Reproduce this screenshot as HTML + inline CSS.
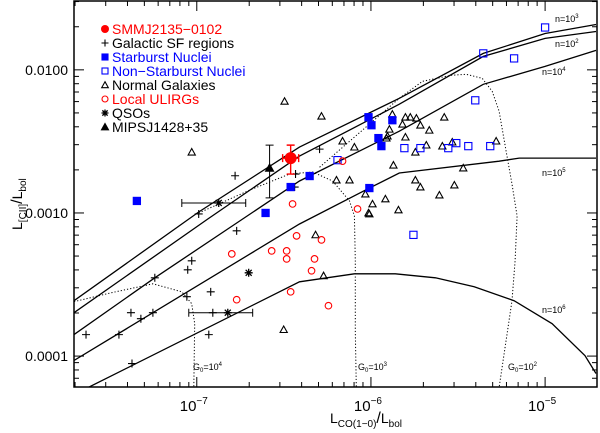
<!DOCTYPE html>
<html><head><meta charset="utf-8"><style>
body{margin:0;background:#fff}
svg{display:block;font-family:"Liberation Sans",sans-serif}
</style></head><body>
<svg id="c" width="600" height="433" viewBox="0 0 600 433"></svg>
<script>
// axes: log10 values
const xLogMin=-7.705, xLogMax=-4.702, yLogMin=-4.216, yLogMax=-1.519;
const xTickExp=[-7,-6,-5];
const yTickLabels=["0.0001","0.0010","0.0100"];
const yTickExp=[-4,-3,-2];
// data (log10 LCO/Lbol, log10 LCII/Lbol)
const sfX=[-7.636,-7.447,-7.378,-7.321,-7.252,-7.241,-7.057,-7.052,-7.029,-6.920,-6.931,-6.771,-6.908,-7.372,-6.989,-6.433,-6.438,-6.295,-6.780];
const sfY=[-3.850,-3.850,-3.697,-3.739,-3.697,-3.453,-3.585,-3.397,-3.334,-3.551,-3.850,-3.125,-3.697,-4.052,-3.007,-2.728,-2.819,-2.554,-2.740];
const sbX=[-7.344,-6.605,-6.461,-6.352,-6.014,-5.997,-5.957,-5.940,-5.877,-6.009];
const sbY=[-2.916,-3.000,-2.819,-2.742,-2.331,-2.387,-2.477,-2.533,-2.352,-2.826];
const nsbX=[-5.000,-5.355,-5.178,-5.401,-5.808,-5.716,-5.556,-5.510,-5.441,-5.315,-6.192,-5.756];
const nsbY=[-1.704,-1.885,-1.920,-2.213,-2.547,-2.547,-2.547,-2.512,-2.533,-2.533,-2.631,-3.153];
const ngX=[-7.029,-6.496,-6.284,-6.163,-6.095,-5.877,-5.802,-5.774,-5.739,-5.716,-5.665,-5.579,-5.894,-5.905,-5.911,-5.802,-5.819,-5.745,-5.682,-5.590,-5.533,-5.281,-5.871,-5.470,-6.198,-6.123,-5.745,-5.716,-5.521,-5.607,-6.032,-5.991,-5.917,-6.014,-5.842,-6.318,-6.272,-6.009,-6.501];
const ngY=[-2.575,-2.220,-2.324,-2.498,-2.540,-2.310,-2.331,-2.331,-2.338,-2.387,-2.422,-2.331,-2.415,-2.463,-2.477,-2.470,-2.380,-2.575,-2.526,-2.533,-2.505,-2.498,-2.666,-2.686,-2.770,-2.770,-2.770,-2.819,-2.805,-2.875,-2.868,-2.937,-2.902,-3.000,-2.979,-3.153,-3.439,-3.007,-3.815];
const ulX=[-6.450,-6.163,-6.077,-6.799,-6.771,-6.570,-6.484,-6.484,-6.427,-6.461,-6.284,-6.324,-6.341,-6.244];
const ulY=[-2.937,-2.638,-2.972,-3.286,-3.606,-3.265,-3.265,-3.321,-3.160,-3.551,-3.188,-3.321,-3.404,-3.648];
const qsoX=[-6.874,-6.702,-6.822];
const qsoY=[-2.930,-3.418,-3.697];
const qsoErrLo=[-7.086,null,-7.046];
const qsoErrHi=[-6.719,null,-6.679];
const mipsX=[-6.582], mipsY=[-2.686], mipsErrLo=[-2.895], mipsErrHi=[-2.526];
const smmX=[-6.461], smmY=[-2.617], smmErrYLo=[-2.728], smmErrYHi=[-2.526], smmErrXLo=[-6.507], smmErrXHi=[-6.415];
// model curves
const curveN3X=[-7.705,-6.989,-6.410,-5.837,-5.355,-5.000,-4.708];
const curveN3Y=[-3.613,-2.993,-2.540,-2.199,-1.885,-1.746,-1.683];
const curveN2X=[-7.705,-6.937,-6.410,-5.837,-5.355,-5.000,-4.708];
const curveN2Y=[-3.697,-3.042,-2.603,-2.240,-1.906,-1.780,-1.732];
const curveN4X=[-7.705,-7.241,-6.771,-6.410,-5.837,-5.355,-5.000,-4.708];
const curveN4Y=[-3.850,-3.453,-3.070,-2.777,-2.429,-2.101,-1.976,-1.864];
const curveN5X=[-7.705,-6.410,-6.009,-5.837,-5.264,-5.149,-4.708];
const curveN5Y=[-4.031,-3.077,-2.826,-2.721,-2.638,-2.617,-2.617];
const curveN6X=[-7.625,-6.410,-6.095,-5.860,-5.630,-5.407,-5.178,-4.960,-4.771,-4.708];
const curveN6Y=[-4.220,-3.481,-3.425,-3.425,-3.453,-3.516,-3.613,-3.774,-3.997,-4.122];
const g4X=[-7.705,-7.500,-7.252,-7.086,-7.029,-7.012,-7.017];
const g4Y=[-3.620,-3.560,-3.495,-3.551,-3.634,-3.774,-4.220];
const g3X=[-6.989,-6.696,-6.467,-6.335,-6.220,-6.123,-6.095,-6.090,-6.090,-6.084];
const g3Y=[-3.000,-2.840,-2.728,-2.714,-2.777,-2.916,-3.021,-3.334,-3.822,-4.220];
const g2X=[-6.295,-5.837,-5.704,-5.539,-5.453,-5.361,-5.304,-5.264,-5.224,-5.190,-5.161,-5.172,-5.190,-5.264];
const g2Y=[-2.680,-2.199,-2.080,-2.038,-2.031,-2.059,-2.150,-2.289,-2.568,-2.798,-3.021,-3.334,-3.613,-4.220];

const NS="http://www.w3.org/2000/svg";
const svg=document.getElementById('c');
const L=74,R=597,T=1,B=387;
function X(lg){return L+(lg-xLogMin)/(xLogMax-xLogMin)*(R-L);}
function Y(lg){return B-(lg-yLogMin)/(yLogMax-yLogMin)*(B-T);}
function mk(tag,attrs,parent){const e=document.createElementNS(NS,tag);for(const k in attrs)e.setAttribute(k,attrs[k]);(parent||svg).appendChild(e);return e;}

const clip=mk('clipPath',{id:'pc'});mk('rect',{x:L,y:T,width:R-L,height:B-T},clip);
const gPlot=mk('g',{'clip-path':'url(#pc)'});



function poly(xs,ys,dash,name){
  const p=xs.map((x,i)=>X(x).toFixed(1)+','+Y(ys[i]).toFixed(1)).join(' ');
  const e=mk('polyline',{points:p,fill:'none',stroke:'#000','stroke-width':dash?1:1.3,'stroke-dasharray':dash?'1.2,2':'none'},gPlot);
  
  
}
poly(curveN3X,curveN3Y,false,'model-n-1e3');
poly(curveN2X,curveN2Y,false,'model-n-1e2');
poly(curveN4X,curveN4Y,false,'model-n-1e4');
poly(curveN5X,curveN5Y,false,'model-n-1e5');
poly(curveN6X,curveN6Y,false,'model-n-1e6');
poly(g4X,g4Y,true,'model-g0-1e4');
poly(g3X,g3Y,true,'model-g0-1e3');
poly(g2X,g2Y,true,'model-g0-1e2');

// frame and ticks
const frame=mk('rect',{x:L,y:T,width:R-L,height:B-T,fill:'none',stroke:'#000','stroke-width':1.5});


for(let e=-8;e<=-4;e++){for(let m=1;m<10;m++){const lg=e+Math.log10(m);if(lg<xLogMin||lg>xLogMax)continue;const x=X(lg),len=m==1?10:5;
  mk('line',{x1:x,y1:B,x2:x,y2:B-len,stroke:'#000','stroke-width':1});mk('line',{x1:x,y1:T,x2:x,y2:T+len,stroke:'#000','stroke-width':1});}}
for(let e=-5;e<=-1;e++){for(let m=1;m<10;m++){const lg=e+Math.log10(m);if(lg<yLogMin||lg>yLogMax)continue;const y=Y(lg),len=m==1?10:5;
  mk('line',{x1:L,y1:y,x2:L+len,y2:y,stroke:'#000','stroke-width':1});mk('line',{x1:R,y1:y,x2:R-len,y2:y,stroke:'#000','stroke-width':1});}}
xTickExp.forEach(e=>{const t=mk('text',{x:X(e)-3,y:411,'font-size':15,'text-anchor':'middle'});t.innerHTML='10<tspan dy="-7" font-size="10">\u2212'+(-e)+'</tspan>';
  
  });
yTickExp.forEach((e,i)=>{const t=mk('text',{x:68,y:Y(e)+5,'font-size':14,'text-anchor':'end'});t.textContent=yTickLabels[i];
  
  });

// axis titles
const xt=mk('text',{x:330,y:423,'font-size':14});
xt.innerHTML='L<tspan dy="4" font-size="10">CO(1\u22120)</tspan><tspan dy="-4" font-size="16">/</tspan>L<tspan dy="4" font-size="10">bol</tspan>';


const yt=mk('text',{x:0,y:0,'font-size':14,transform:'translate(22,230) rotate(-90)'});
yt.innerHTML='L<tspan dy="4" font-size="10">[CII]</tspan><tspan dy="-4" font-size="16">/</tspan>L<tspan dy="4" font-size="10">bol</tspan>';



// curve labels
function lab(x,y,base,exp,name){const t=mk('text',{x:x,y:y,'font-size':9});t.innerHTML=base+'<tspan dy="-4" font-size="6">'+exp+'</tspan>';
  
  }
lab(555,22,'n=10','3','label-n-1e3');lab(555,47,'n=10','2','label-n-1e2');lab(542,75,'n=10','4','label-n-1e4');
lab(542,176,'n=10','5','label-n-1e5');lab(542,313,'n=10','6','label-n-1e6');
function glab(x,name,exp){const t=mk('text',{x:x,y:370,'font-size':9});t.innerHTML='G<tspan dy="2" font-size="6">0</tspan><tspan dy="-2">=10</tspan><tspan dy="-4" font-size="6">'+exp+'</tspan>';
  
  }
glab(193,'label-g0-1e4','4');glab(358,'label-g0-1e3','3');glab(508,'label-g0-1e2','2');

// markers
function plus(x,y,p,s){mk('path',{d:`M${x-s},${y}H${x+s}M${x},${y-s}V${y+s}`,stroke:'#000','stroke-width':1.1,fill:'none'},p);}
function sq(x,y,p,fill,s){mk('rect',{x:x-s,y:y-s,width:2*s,height:2*s,fill:fill?'#0000ff':'none',stroke:'#0000ff','stroke-width':1.1},p);}
function tri(x,y,p,fill,s){mk('path',{d:`M${x},${y-s}L${x+s},${y+s*0.8}L${x-s},${y+s*0.8}Z`,fill:fill?'#000':'none',stroke:'#000','stroke-width':1.1},p);}
function circ(x,y,p,s){mk('circle',{cx:x,cy:y,r:s,fill:'none',stroke:'#ff0000','stroke-width':1.1},p);}
function star(x,y,p,s){mk('path',{d:`M${x-s},${y}H${x+s}M${x},${y-s}V${y+s}M${x-s*.75},${y-s*.75}L${x+s*.75},${y+s*.75}M${x-s*.75},${y+s*.75}L${x+s*.75},${y-s*.75}`,stroke:'#000','stroke-width':1.3,fill:'none'},p);}
function grp(name){const g=mk('g',{},gPlot);return g;}

const gSF=grp('series-galactic-sf');sfX.forEach((v,i)=>plus(X(v),Y(sfY[i]),gSF,4));
const gNG=grp('series-normal-galaxies');ngX.forEach((v,i)=>tri(X(v),Y(ngY[i]),gNG,false,3.6));
const gNSB=grp('series-non-starburst');nsbX.forEach((v,i)=>sq(X(v),Y(nsbY[i]),gNSB,false,3.6));
const gSB=grp('series-starburst');sbX.forEach((v,i)=>sq(X(v),Y(sbY[i]),gSB,true,3.6));
const gUL=grp('series-ulirgs');ulX.forEach((v,i)=>circ(X(v),Y(ulY[i]),gUL,3.3));
const gQ=grp('series-qsos');qsoX.forEach((v,i)=>{const x=X(v),y=Y(qsoY[i]);
  if(qsoErrLo[i]!=null){const a=X(qsoErrLo[i]),b=X(qsoErrHi[i]);mk('path',{d:`M${a},${y}H${b}M${a},${y-4}V${y+4}M${b},${y-4}V${y+4}`,stroke:'#000','stroke-width':1,fill:'none'},gQ);}
  star(x,y,gQ,4);});
const gM=grp('series-mips');mipsX.forEach((v,i)=>{const x=X(v),a=Y(mipsErrLo[i]),b=Y(mipsErrHi[i]);
  mk('path',{d:`M${x},${a}V${b}M${x-4},${a}H${x+4}M${x-4},${b}H${x+4}`,stroke:'#000','stroke-width':1,fill:'none'},gM);
  tri(x,Y(mipsY[i]),gM,true,4);});
const gS=grp('series-smmj2135');smmX.forEach((v,i)=>{const x=X(v),y=Y(smmY[i]),a=Y(smmErrYLo[i]),b=Y(smmErrYHi[i]),c=X(smmErrXLo[i]),d=X(smmErrXHi[i]);
  mk('path',{d:`M${x},${a}V${b}M${x-4},${a}H${x+4}M${x-4},${b}H${x+4}M${c},${y}H${d}M${c},${y-4}V${y+4}M${d},${y-4}V${y+4}`,stroke:'#ff0000','stroke-width':1.4,fill:'none'},gS);
  mk('circle',{cx:x,cy:y,r:6,fill:'#ff0000'},gS);});

// legend
const lg=mk('g',{});
const legText=["SMMJ2135\u22120102","Galactic SF regions","Starburst Nuclei","Non\u2212Starburst Nuclei","Normal Galaxies","Local ULIRGs","QSOs","MIPSJ1428+35"];
const legCol=["#ff0000","#000","#0000ff","#0000ff","#000","#ff0000","#000","#000"];
legText.forEach((t,i)=>{const y=29+i*14,x=105;
  const e=mk('g',{},lg);
  if(i==0)mk('circle',{cx:x,cy:y,r:4,fill:'#ff0000'},e);
  if(i==1)plus(x,y,e,3.5);
  if(i==2)sq(x,y,e,true,3);
  if(i==3)sq(x,y,e,false,3);
  if(i==4)tri(x,y,e,false,3.3);
  if(i==5)circ(x,y,e,3);
  if(i==6)star(x,y,e,3.5);
  if(i==7)tri(x,y,e,true,3.5);
  const tx=mk('text',{x:112,y:y+5,'font-size':14,fill:legCol[i]},e);tx.textContent=t;});
</script>
</body></html>
